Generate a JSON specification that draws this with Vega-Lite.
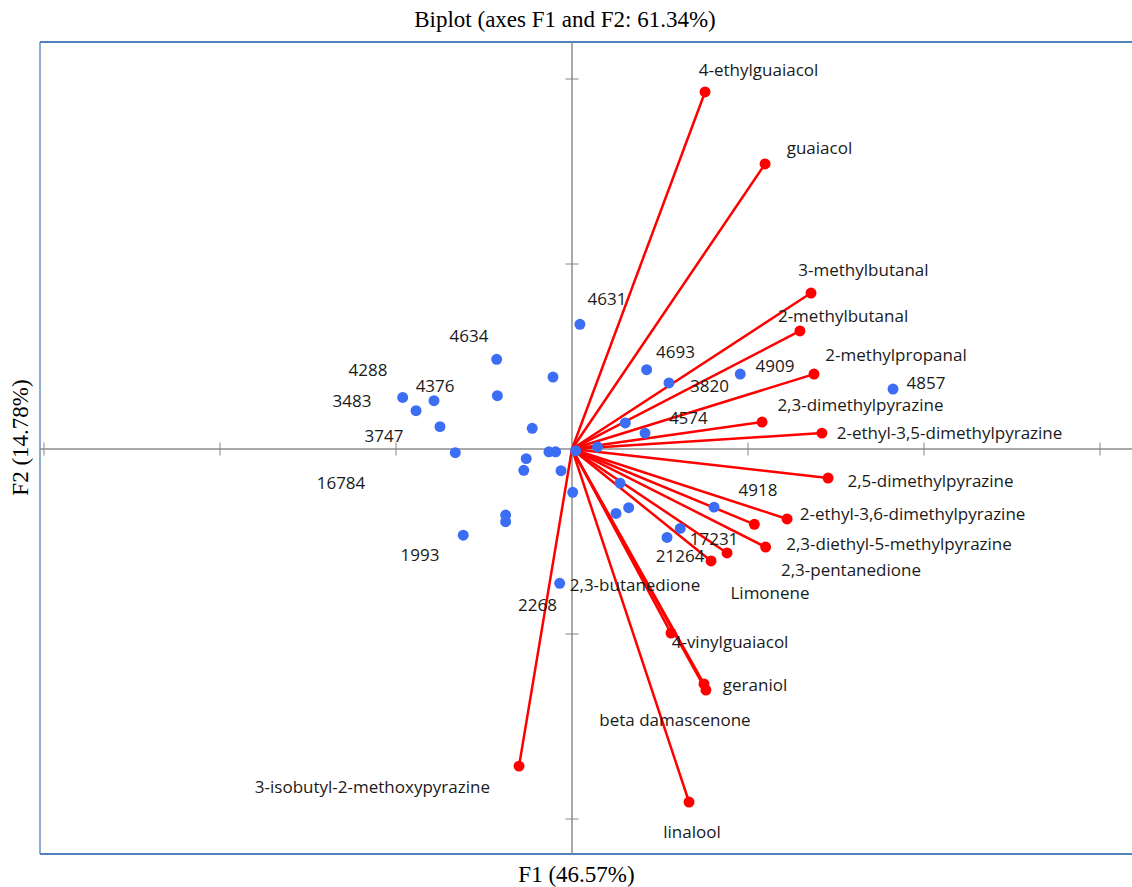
{
  "$schema": "https://vega.github.io/schema/vega-lite/v6.json",
  "width": 1092,
  "height": 812,
  "autosize": {"type": "none"},
  "padding": {"left": 40, "top": 42, "right": 0, "bottom": 33},
  "background": "white",
  "title": {"text": "Biplot (axes F1 and F2: 61.34%)", "font": "Liberation Serif", "fontSize": 23, "fontWeight": "normal", "color": "black", "offset": 9, "dx": -21},
  "config": {
    "view": {"stroke": null},
    "axis": {"domain": false, "ticks": false, "labels": false, "grid": false, "titleFont": "Liberation Serif", "titleFontSize": 23, "titleFontWeight": "normal", "titleColor": "black"},
    "axisX": {"titlePadding": 9, "titleX": 536},
    "axisY": {"titlePadding": 8, "titleY": 395}
  },
  "datasets": {
    "origin": [{"x": 0, "y": 0}],
    "observations": [
      {"id": "4631", "x": 0.045, "y": 0.674, "lx": 0.199, "ly": 0.805},
      {"id": "4634", "x": -0.428, "y": 0.485, "lx": -0.585, "ly": 0.605},
      {"x": -0.108, "y": 0.389},
      {"id": "4288", "x": -0.962, "y": 0.279, "lx": -1.159, "ly": 0.422},
      {"id": "4376", "x": -0.784, "y": 0.261, "lx": -0.778, "ly": 0.335},
      {"x": -0.424, "y": 0.288},
      {"id": "3483", "x": -0.886, "y": 0.207, "lx": -1.25, "ly": 0.254},
      {"id": "3747", "x": -0.75, "y": 0.121, "lx": -1.068, "ly": 0.065},
      {"x": -0.226, "y": 0.112},
      {"id": "16784", "x": -0.663, "y": -0.02, "lx": -1.3125, "ly": -0.189},
      {"x": -0.131, "y": -0.015},
      {"x": -0.093, "y": -0.015},
      {"x": 0.021, "y": -0.009},
      {"x": 0.145, "y": 0.011},
      {"x": -0.26, "y": -0.052},
      {"x": -0.274, "y": -0.115},
      {"x": -0.0625, "y": -0.117},
      {"x": 0.004, "y": -0.234},
      {"x": 0.273, "y": -0.185},
      {"x": -0.377, "y": -0.357},
      {"x": -0.377, "y": -0.393},
      {"id": "1993", "x": -0.618, "y": -0.466, "lx": -0.864, "ly": -0.578},
      {"x": 0.25, "y": -0.348},
      {"x": 0.322, "y": -0.317},
      {"id": "4693", "x": 0.424, "y": 0.429, "lx": 0.588, "ly": 0.519},
      {"id": "3820", "x": 0.551, "y": 0.357, "lx": 0.781, "ly": 0.335},
      {"id": "4909", "x": 0.956, "y": 0.405, "lx": 1.153, "ly": 0.443},
      {"x": 0.303, "y": 0.141},
      {"id": "4574", "x": 0.415, "y": 0.086, "lx": 0.661, "ly": 0.162},
      {"id": "4918", "x": 0.807, "y": -0.314, "lx": 1.057, "ly": -0.227},
      {"id": "17231", "x": 0.615, "y": -0.429, "lx": 0.807, "ly": -0.492},
      {"id": "21264", "x": 0.54, "y": -0.478, "lx": 0.614, "ly": -0.582},
      {"id": "2268", "x": -0.07, "y": -0.726, "lx": -0.196, "ly": -0.849},
      {"id": "4857", "x": 1.824, "y": 0.324, "lx": 2.011, "ly": 0.35}
    ],
    "variables": [
      {"name": "4-ethylguaiacol", "x": 0.756, "y": 1.93, "lx": 1.06, "ly": 2.043},
      {"name": "guaiacol", "x": 1.097, "y": 1.541, "lx": 1.406, "ly": 1.622},
      {"name": "3-methylbutanal", "x": 1.358, "y": 0.843, "lx": 1.656, "ly": 0.962},
      {"name": "2-methylbutanal", "x": 1.295, "y": 0.638, "lx": 1.54, "ly": 0.714},
      {"name": "2-methylpropanal", "x": 1.375, "y": 0.405, "lx": 1.841, "ly": 0.503},
      {"name": "2,3-dimethylpyrazine", "x": 1.08, "y": 0.146, "lx": 1.639, "ly": 0.232},
      {"name": "2-ethyl-3,5-dimethylpyrazine", "x": 1.42, "y": 0.086, "lx": 2.145, "ly": 0.081},
      {"name": "2,5-dimethylpyrazine", "x": 1.455, "y": -0.157, "lx": 2.037, "ly": -0.178},
      {"name": "2-ethyl-3,6-dimethylpyrazine", "x": 1.222, "y": -0.378, "lx": 1.935, "ly": -0.357},
      {"name": "2,3-diethyl-5-methylpyrazine", "x": 1.1, "y": -0.53, "lx": 1.858, "ly": -0.519},
      {"name": "2,3-pentanedione", "x": 0.881, "y": -0.562, "lx": 1.585, "ly": -0.659},
      {"name": "Limonene", "x": 0.79, "y": -0.605, "lx": 1.125, "ly": -0.784},
      {"name": "2,3-butanedione", "x": 1.036, "y": -0.407, "lx": 0.358, "ly": -0.739},
      {"name": "4-vinylguaiacol", "x": 0.5625, "y": -0.995, "lx": 0.898, "ly": -1.049},
      {"name": "geraniol", "x": 0.75, "y": -1.27, "lx": 1.04, "ly": -1.281},
      {"name": "beta damascenone", "x": 0.761, "y": -1.303, "lx": 0.585, "ly": -1.47},
      {"name": "linalool", "x": 0.665, "y": -1.908, "lx": 0.682, "ly": -2.076},
      {"name": "3-isobutyl-2-methoxypyrazine", "x": -0.301, "y": -1.714, "lx": -1.134, "ly": -1.832}
    ],
    "xTicks": [{"v": -3}, {"v": -2}, {"v": -1}, {"v": 1}, {"v": 2}, {"v": 3}],
    "yTicks": [{"v": -2}, {"v": -1}, {"v": 1}, {"v": 2}]
  },
  "layer": [
    {
      "data": {"name": "origin"},
      "mark": {"type": "rule", "color": "#4f81bd", "strokeWidth": 2},
      "encoding": {
        "y": {"datum": 2.2, "type": "quantitative", "title": "F2 (14.78%)", "scale": {"domain": [-2.189, 2.2], "nice": false, "zero": false}}
      }
    },
    {
      "data": {"name": "origin"},
      "mark": {"type": "rule", "color": "#4f81bd", "strokeWidth": 2},
      "encoding": {
        "y": {"datum": -2.189, "type": "quantitative", "title": "F2 (14.78%)", "scale": {"domain": [-2.189, 2.2], "nice": false, "zero": false}}
      }
    },
    {
      "data": {"name": "origin"},
      "mark": {"type": "rule", "color": "#4f81bd", "strokeWidth": 1.3},
      "encoding": {
        "x": {"datum": -3.0227, "type": "quantitative", "title": "F1 (46.57%)", "scale": {"domain": [-3.0227, 3.1818], "nice": false, "zero": false}}
      }
    },
    {
      "data": {"name": "origin"},
      "mark": {"type": "rule", "color": "#8c8c8c", "strokeWidth": 1.5},
      "encoding": {
        "y": {"field": "y", "type": "quantitative", "title": "F2 (14.78%)", "scale": {"domain": [-2.189, 2.2], "nice": false, "zero": false}}
      }
    },
    {
      "data": {"name": "origin"},
      "mark": {"type": "rule", "color": "#8c8c8c", "strokeWidth": 1.5},
      "encoding": {
        "x": {"field": "x", "type": "quantitative", "title": "F1 (46.57%)", "scale": {"domain": [-3.0227, 3.1818], "nice": false, "zero": false}}
      }
    },
    {
      "data": {"name": "xTicks"},
      "mark": {"type": "tick", "orient": "vertical", "color": "#8c8c8c", "size": 13, "thickness": 1.5},
      "encoding": {
        "x": {"field": "v", "type": "quantitative", "title": "F1 (46.57%)", "scale": {"domain": [-3.0227, 3.1818], "nice": false, "zero": false}},
        "y": {"datum": 0, "type": "quantitative", "title": "F2 (14.78%)", "scale": {"domain": [-2.189, 2.2], "nice": false, "zero": false}}
      }
    },
    {
      "data": {"name": "yTicks"},
      "mark": {"type": "tick", "orient": "horizontal", "color": "#8c8c8c", "size": 13, "thickness": 1.5},
      "encoding": {
        "x": {"datum": 0, "type": "quantitative", "title": "F1 (46.57%)", "scale": {"domain": [-3.0227, 3.1818], "nice": false, "zero": false}},
        "y": {"field": "v", "type": "quantitative", "title": "F2 (14.78%)", "scale": {"domain": [-2.189, 2.2], "nice": false, "zero": false}}
      }
    },
    {
      "data": {"name": "variables"},
      "mark": {"type": "rule", "color": "#ff0000", "strokeWidth": 2.5},
      "encoding": {
        "x": {"field": "x", "type": "quantitative", "title": "F1 (46.57%)", "scale": {"domain": [-3.0227, 3.1818], "nice": false, "zero": false}},
        "y": {"field": "y", "type": "quantitative", "title": "F2 (14.78%)", "scale": {"domain": [-2.189, 2.2], "nice": false, "zero": false}},
        "x2": {"datum": 0},
        "y2": {"datum": 0}
      }
    },
    {
      "data": {"name": "variables"},
      "mark": {"type": "circle", "color": "#ff0000", "size": 120, "opacity": 1},
      "encoding": {
        "x": {"field": "x", "type": "quantitative", "title": "F1 (46.57%)", "scale": {"domain": [-3.0227, 3.1818], "nice": false, "zero": false}},
        "y": {"field": "y", "type": "quantitative", "title": "F2 (14.78%)", "scale": {"domain": [-2.189, 2.2], "nice": false, "zero": false}}
      }
    },
    {
      "data": {"name": "observations"},
      "mark": {"type": "circle", "color": "#3c6ef5", "size": 120, "opacity": 1},
      "encoding": {
        "x": {"field": "x", "type": "quantitative", "title": "F1 (46.57%)", "scale": {"domain": [-3.0227, 3.1818], "nice": false, "zero": false}},
        "y": {"field": "y", "type": "quantitative", "title": "F2 (14.78%)", "scale": {"domain": [-2.189, 2.2], "nice": false, "zero": false}}
      }
    },
    {
      "data": {"name": "variables"},
      "mark": {"type": "text", "font": "Open Sans", "fontSize": 17, "color": "#1a1a1a", "align": "center", "baseline": "middle"},
      "encoding": {
        "x": {"field": "lx", "type": "quantitative", "title": "F1 (46.57%)", "scale": {"domain": [-3.0227, 3.1818], "nice": false, "zero": false}},
        "y": {"field": "ly", "type": "quantitative", "title": "F2 (14.78%)", "scale": {"domain": [-2.189, 2.2], "nice": false, "zero": false}},
        "text": {"field": "name"}
      }
    },
    {
      "data": {"name": "observations"},
      "transform": [{"filter": "isValid(datum.id)"}],
      "mark": {"type": "text", "font": "Open Sans", "fontSize": 17, "color": "#1a1a1a", "align": "center", "baseline": "middle"},
      "encoding": {
        "x": {"field": "lx", "type": "quantitative", "title": "F1 (46.57%)", "scale": {"domain": [-3.0227, 3.1818], "nice": false, "zero": false}},
        "y": {"field": "ly", "type": "quantitative", "title": "F2 (14.78%)", "scale": {"domain": [-2.189, 2.2], "nice": false, "zero": false}},
        "text": {"field": "id"}
      }
    }
  ]
}
